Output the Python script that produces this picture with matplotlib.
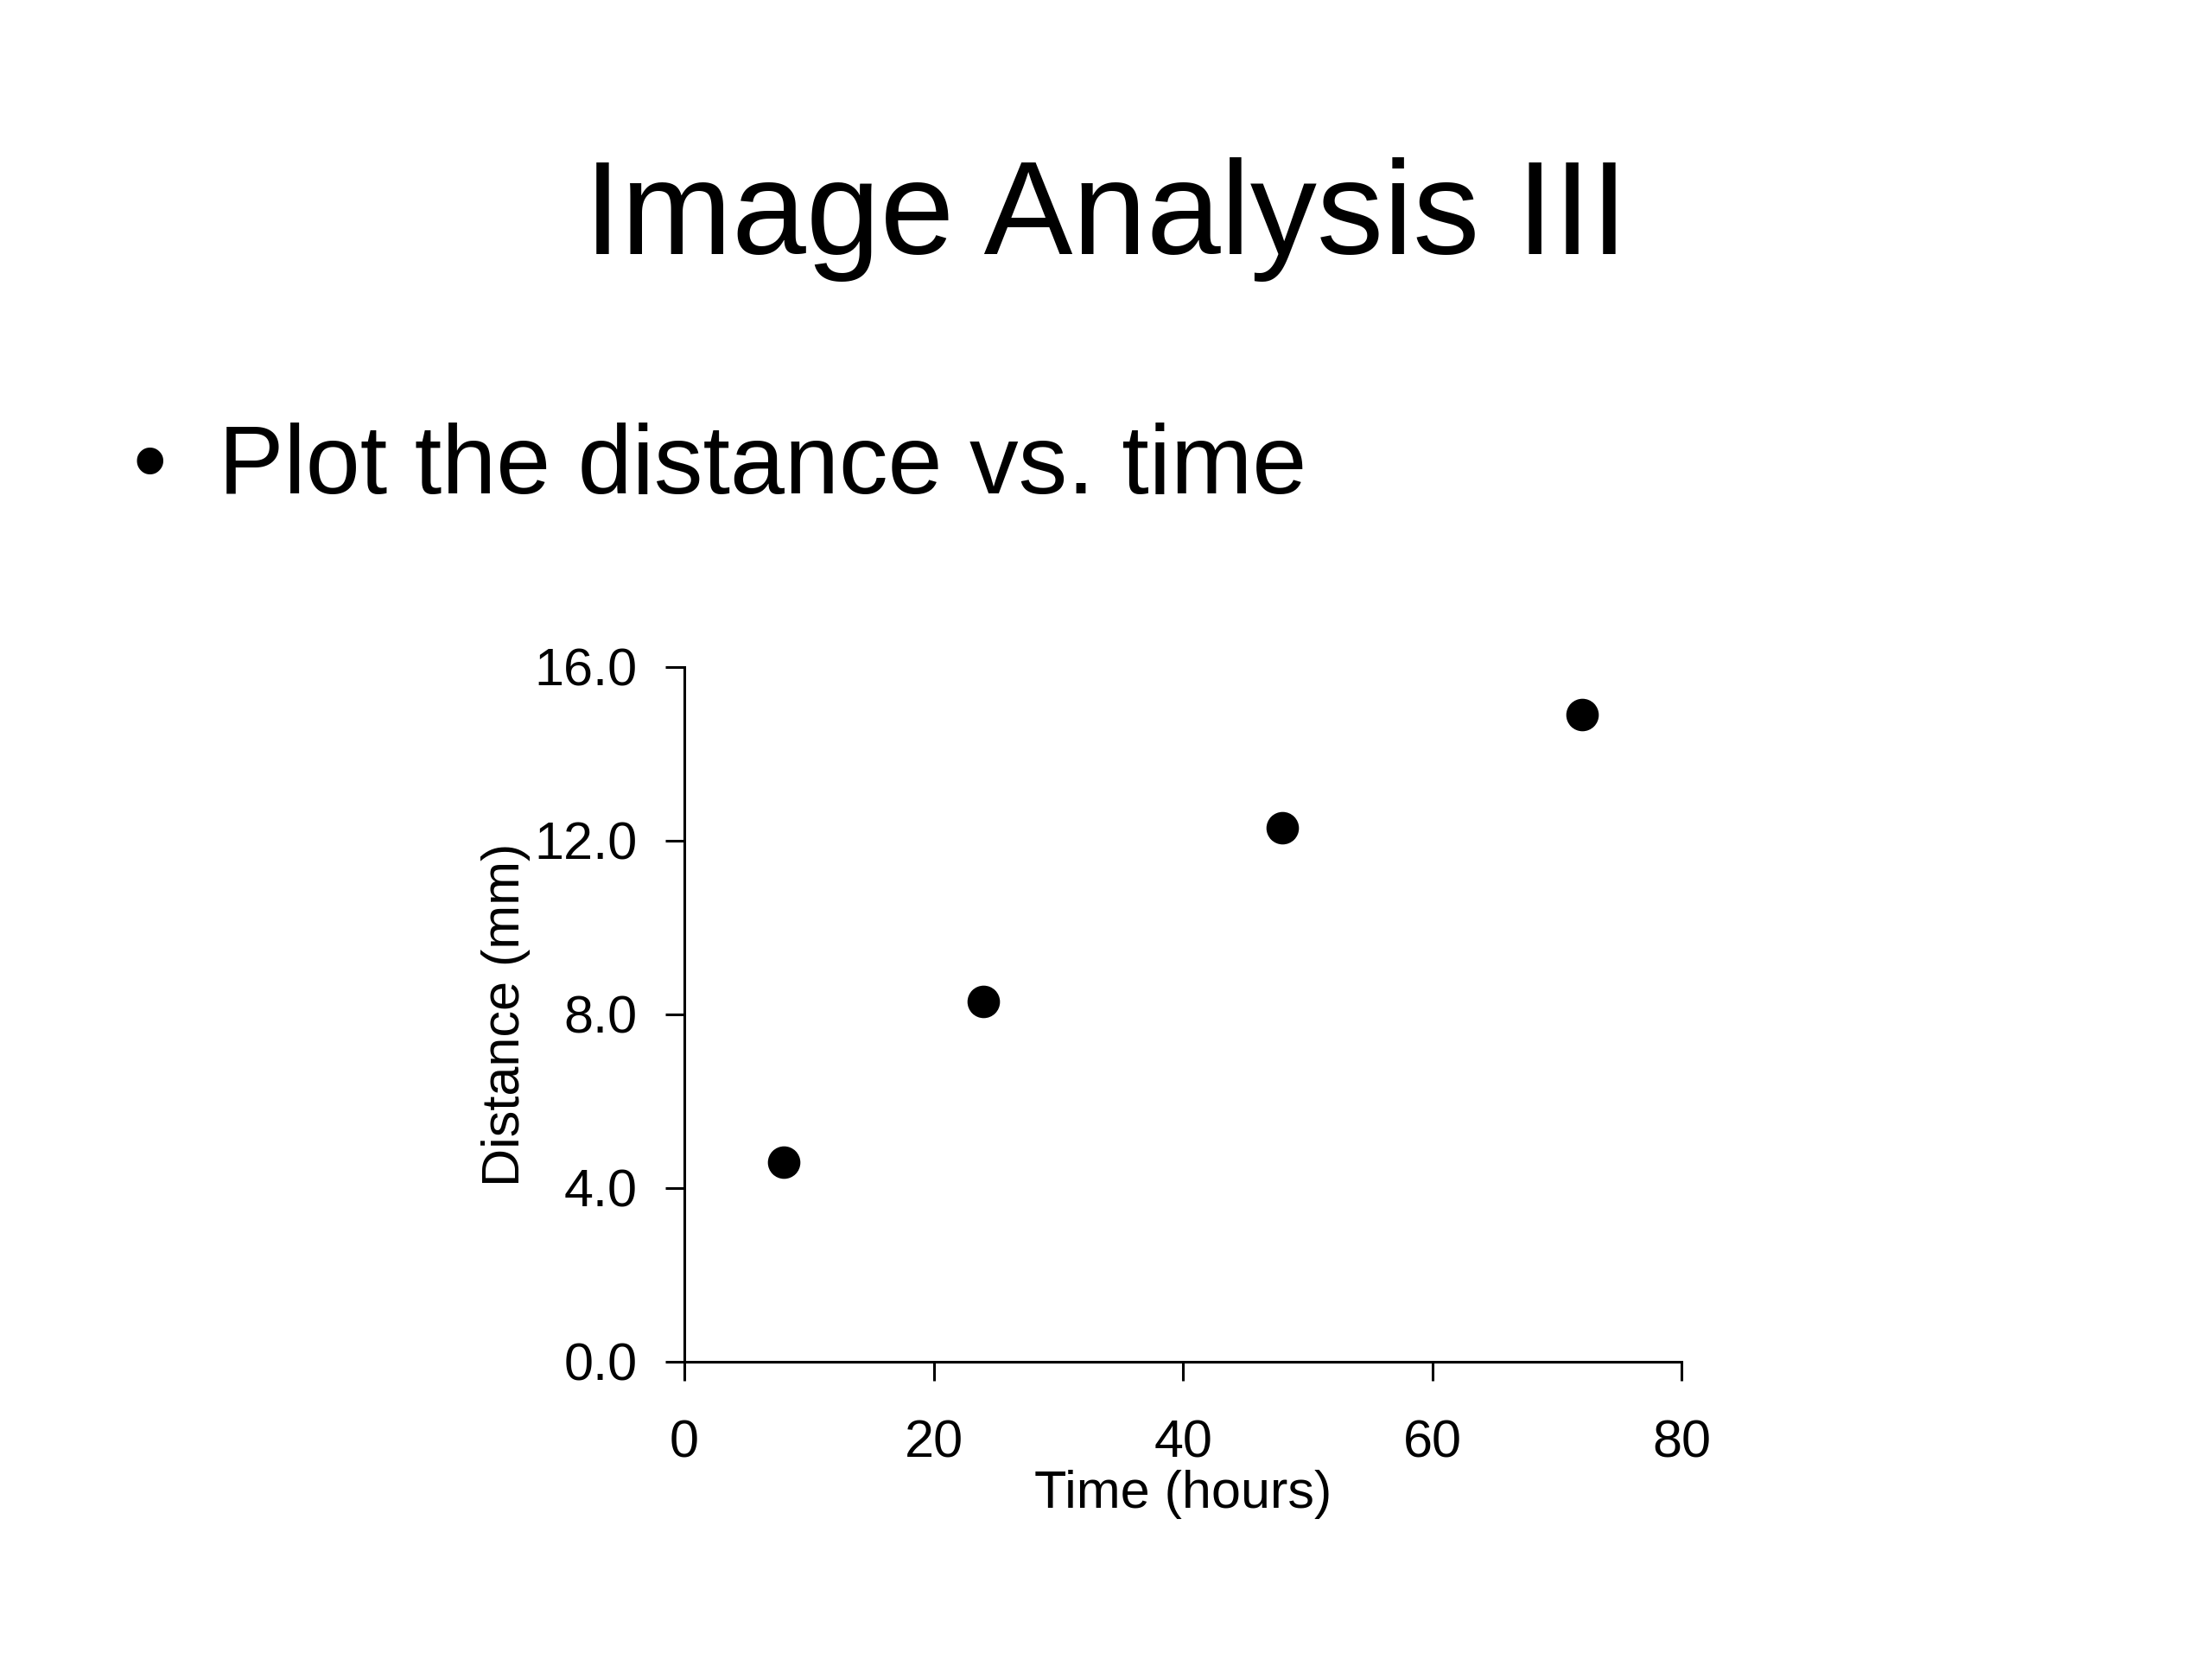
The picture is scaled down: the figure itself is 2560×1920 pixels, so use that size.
import matplotlib
matplotlib.use('Agg')
from matplotlib import pyplot as plt

# data
time_hours = [8, 24, 48, 72]
distance_mm = [4.6, 8.3, 12.3, 14.9]
x_ticks = [0, 20, 40, 60, 80]
y_ticks = [0.0, 4.0, 8.0, 12.0, 16.0]

plt.rcParams['font.family'] = ['Liberation Sans', 'DejaVu Sans']

fig = plt.figure(figsize=(25.6, 19.2), dpi=100)

# slide title and bullet
fig.text(0.5, 0.847, 'Image Analysis III', fontsize=111,
         ha='center', va='baseline')
fig.text(0.0676, 0.7026, '\u2022', fontsize=81, ha='center', va='baseline')
fig.text(0.0989, 0.7026, 'Plot the distance vs. time', fontsize=81.5,
         ha='left', va='baseline')

ax = fig.add_axes([0.3094, 0.1792, 0.4508, 0.4188])
ax.scatter(time_hours, distance_mm, s=680, color='black', zorder=3,
           clip_on=False)

ax.set_xlim(0, 80)
ax.set_ylim(0, 16)
ax.set_xticks(x_ticks)
ax.set_xticklabels([str(t) for t in x_ticks])
ax.set_yticks(y_ticks)
ax.set_yticklabels(['%.1f' % v for v in y_ticks])

for side in ['top', 'right']:
    ax.spines[side].set_visible(False)
for side in ['left', 'bottom']:
    ax.spines[side].set_linewidth(2.2)

ax.tick_params(axis='both', direction='out', length=16, width=2.2,
               labelsize=44, colors='black')
ax.tick_params(axis='y', pad=23)
ax.tick_params(axis='x', pad=32)

ax.set_xlabel('Time (hours)', fontsize=44)
ax.set_ylabel('Distance (mm)', fontsize=44)
ax.xaxis.set_label_coords(0.5, -0.156)
ax.yaxis.set_label_coords(-0.154, 0.5)

fig.savefig('out.png', dpi=100, facecolor='white')
